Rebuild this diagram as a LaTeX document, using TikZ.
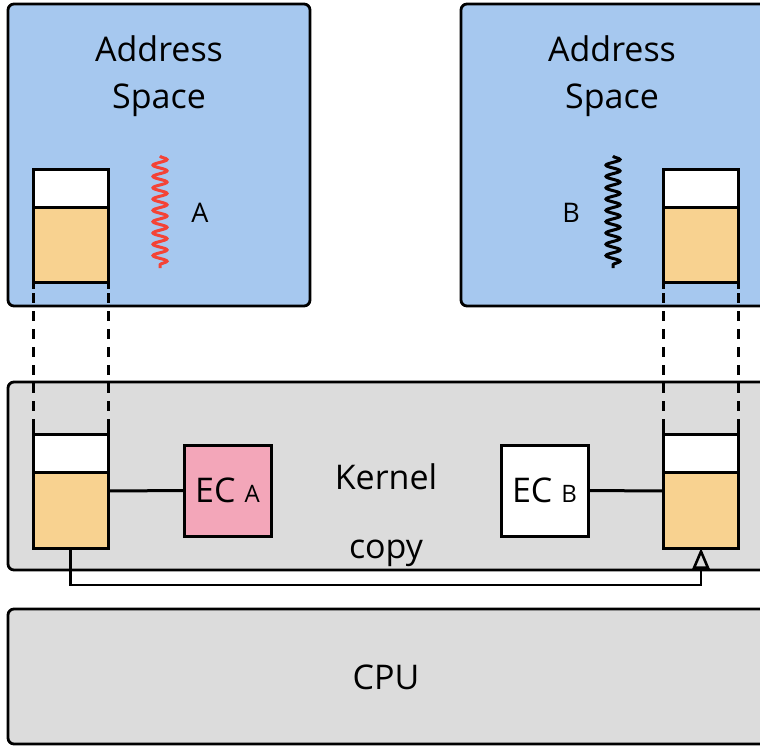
\documentclass[tikz,border=0pt]{standalone}
\usepackage{fontspec}
\setmainfont{Open Sans}
\usetikzlibrary{decorations.pathmorphing,arrows.meta}
\definecolor{asblue}{RGB}{166,200,239}
\definecolor{bufor}{RGB}{248,210,144}
\definecolor{ecpink}{RGB}{243,166,185}
\definecolor{kgray}{RGB}{220,220,220}
\definecolor{wavered}{RGB}{244,67,54}
\tikzset{
  panel/.style={draw, line width=2.8pt, rounded corners=6pt},
  buf/.style={draw, line width=3pt, fill=white, minimum width=75pt, minimum height=113pt, inner sep=0pt, outer sep=0pt,
    path picture={\fill[bufor] (path picture bounding box.south west) rectangle ([yshift=-38pt]path picture bounding box.north east);
      \draw[line width=3pt] ([yshift=-38pt]path picture bounding box.north west) -- ([yshift=-38pt]path picture bounding box.north east);}},
  ecbox/.style={draw, line width=3pt, minimum width=87pt, minimum height=91pt, inner sep=0pt, outer sep=0pt},
  big/.style={font=\fontsize{34}{47}\selectfont},
  lbl/.style={font=\fontsize{27}{30}\selectfont},
  wave/.style={line width=3pt, decorate, decoration={snake, segment length=11.3pt, amplitude=7pt}},
  dashline/.style={line width=3pt, dash pattern=on 10pt off 8pt},
  conn/.style={line width=3pt},
  copyarrow/.style={line width=2.6pt, -{Triangle[open, length=21pt, width=17pt]}},
}
\begin{document}
\begin{tikzpicture}[x=1pt,y=-1pt]
\useasboundingbox (0,0) rectangle (760,745);
\begin{scope}
\clip (0,0) rectangle (760,745);
% panels
\draw[panel, fill=asblue] (8,4) rectangle (310,306);
\draw[panel, fill=asblue] (461,4) rectangle (790,306);
\draw[panel, fill=kgray] (8,382) rectangle (790,570);
\draw[panel, fill=kgray] (8,609) rectangle (790,744);
\end{scope}
% texts
\node[big, align=center] (as1) at (159,76) {Address\\Space};
\node[big, align=center] (as2) at (612,76) {Address\\Space};
\node[big] (kern) at (386,477) {Kernel};
\node[big] (copy) at (386,553) {copy};
\node[big] (cpu) at (386,677) {CPU};
\node[lbl] (la) at (200,213) {A};
\node[lbl] (lb) at (571,213) {B};
% waves
\coordinate (wa1) at (160,156);
\coordinate (wa2) at (160,268);
\coordinate (wb1) at (613,156);
\coordinate (wb2) at (613,268);
\draw[wave, wavered] (wa1) -- (wa2);
\draw[wave, black] (wb1) -- (wb2);
% buffers
\node[buf] (ba) at (70.5,225.5) {};
\node[buf] (bb) at (701,225.5) {};
\node[buf, minimum height=114pt] (ka) at (70.5,491) {};
\node[buf, minimum height=114pt] (kb) at (701,491) {};
% ticks and dashed links
\foreach \u/\k in {ba/ka, bb/kb}{
  \draw[conn] (\u.south west) -- ++(0,7);
  \draw[conn] (\u.south east) -- ++(0,7);
  \draw[conn] (\k.north west) -- ++(0,-7);
  \draw[conn] (\k.north east) -- ++(0,-7);
  \draw[dashline] ([yshift=7pt]\u.south west) -- ([yshift=-7pt]\k.north west);
  \draw[dashline] ([yshift=7pt]\u.south east) -- ([yshift=-7pt]\k.north east);
}
% EC boxes
\node[ecbox, fill=ecpink] (eca) at (227.5,490.5) {\fontsize{34}{34}\selectfont EC\hspace{9pt}\fontsize{24}{24}\selectfont A};
\node[ecbox, fill=white] (ecb) at (544.5,490.5) {\fontsize{34}{34}\selectfont EC\hspace{9pt}\fontsize{24}{24}\selectfont B};
\draw[conn] (ka.east) -- (eca.west);
\draw[conn] (ecb.east) -- (kb.east -| kb.west);
% copy arrow
\coordinate (c1) at (71,585);
\coordinate (c2) at (701,585);
\draw[copyarrow] (ka.south) -- (ka.south |- c1) -- (c2) -- (kb.south);
\end{tikzpicture}
\end{document}
